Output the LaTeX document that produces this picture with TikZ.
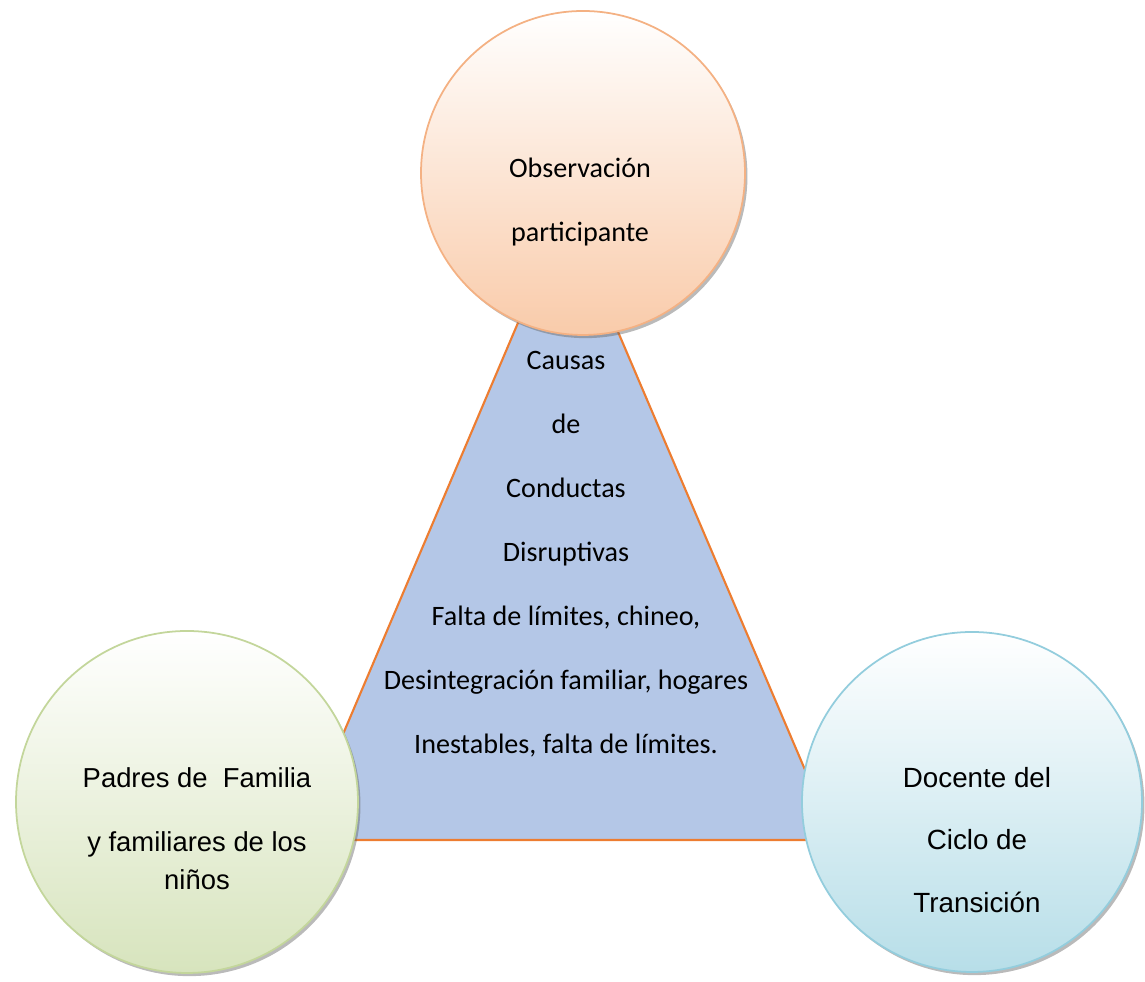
\documentclass[tikz,border=0pt]{standalone}
\usepackage{fontspec}
\setmainfont{Carlito}
\newfontfamily\arialfont{Liberation Sans}
\usetikzlibrary{shadows}
\definecolor{triblue}{HTML}{B4C7E7}
\definecolor{triorange}{HTML}{ED7D31}
\definecolor{peach}{HTML}{F9CBAA}
\definecolor{peachline}{HTML}{F4B183}
\definecolor{leaf}{HTML}{D7E4BD}
\definecolor{leafline}{HTML}{C3D69B}
\definecolor{sky}{HTML}{B7DEE8}
\definecolor{skyline}{HTML}{93CDDD}

\begin{document}
\begin{tikzpicture}[
	ball/.style={circle,draw=#1line,line width=0.5pt,top color=white,bottom color=#1,inner sep=0pt,
		drop shadow={shadow xshift=0.7pt,shadow yshift=-0.9pt,fill=black!60,opacity=0.45}},
	calib/.style={align=center,font=\fontsize{8}{18.2}\selectfont},
	arial/.style={align=center,font=\arialfont\fontsize{7.9}{17.8}\selectfont}
	]
	\useasboundingbox (0,0) rectangle (11.45,9.82);
	
	\coordinate (apex) at (5.66,7.72);
	\coordinate (bl) at (2.98,1.42);
	\coordinate (br) at (8.35,1.42);
	\draw[triorange,line width=0.6pt,fill=triblue] (apex) -- (bl) -- (br) -- cycle;
	\node[calib] (causas) at (5.66,4.28) {Causas\\de\\Conductas\\Disruptivas\\Falta de límites, chineo,\\Desintegración familiar, hogares\\Inestables, falta de límites.};
	
	\node[ball=peach,minimum size=3.24cm] (obs) at (5.83,8.09) {};
	\node[ball=leaf,minimum size=3.42cm] (padres) at (1.87,1.80) {};
	\node[ball=sky,minimum size=3.40cm] (docente) at (9.72,1.80) {};
	
	\node[calib] (obstxt) at (5.80,7.80) {Observación\\participante};
	\node[arial,font=\arialfont\fontsize{7.8}{10.8}\selectfont] (padrestxt) at (1.97,1.53) {Padres de\ \ Familia\\[7.4pt]y familiares de los\\niños};
	\node[arial] (docentetxt) at (9.77,1.42) {Docente del\\Ciclo de\\Transición};
	
\end{tikzpicture}
\end{document}
